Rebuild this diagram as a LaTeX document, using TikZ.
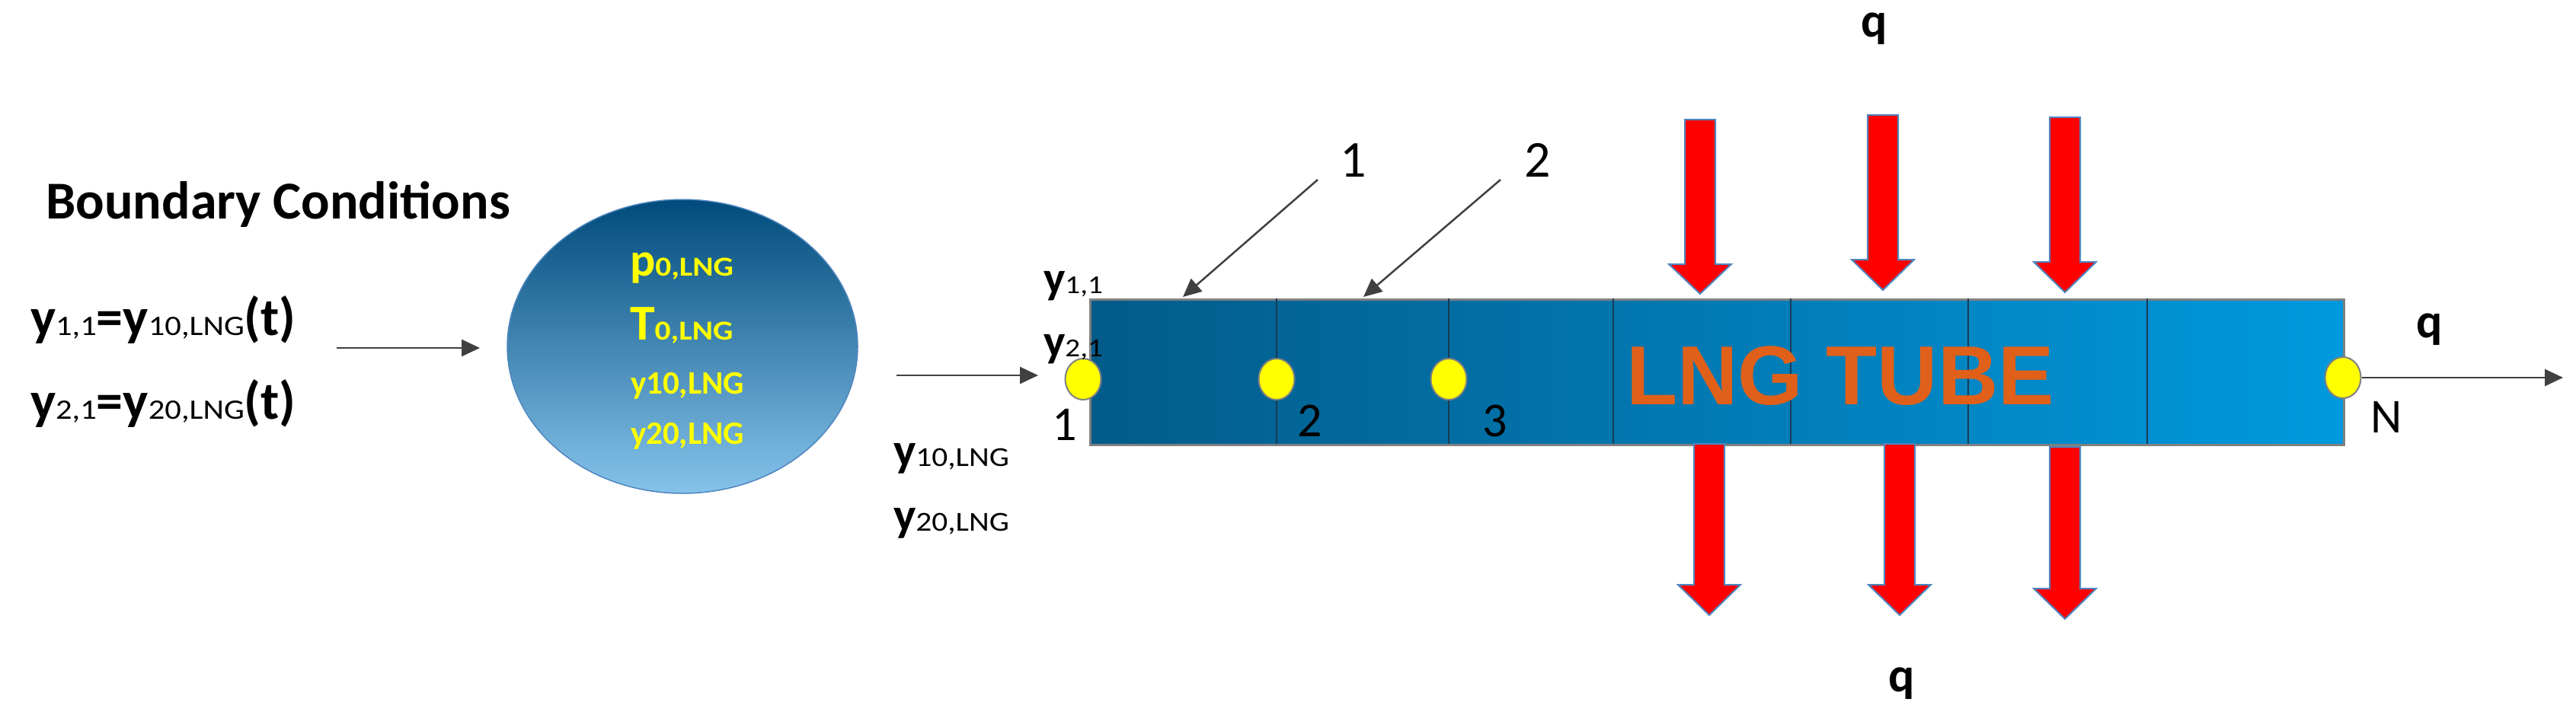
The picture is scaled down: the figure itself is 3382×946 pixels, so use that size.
\documentclass[tikz,border=0pt]{standalone}
\usepackage{fontspec}
\setmainfont{Carlito}
\newfontfamily\subf{Carlito}[FakeStretch=1.15]
\newfontfamily\arialf{Liberation Sans}
\usetikzlibrary{arrows.meta,shapes.geometric}
\definecolor{ellTop}{HTML}{004B7B}
\definecolor{ellMid}{HTML}{0C5B8C}
\definecolor{ellBot}{HTML}{86C3EB}
\definecolor{tubeL}{HTML}{035B8A}
\definecolor{tubeR}{HTML}{0099DE}
\definecolor{tubeEdge}{HTML}{808080}
\definecolor{divLine}{HTML}{1A3A55}
\definecolor{lngOrange}{HTML}{E0601A}
\definecolor{arrRed}{HTML}{FF0000}
\definecolor{arrEdge}{HTML}{4F86BF}
\definecolor{lineGray}{HTML}{404040}
\definecolor{ylw}{HTML}{FFFF00}
\newcommand\bigt[2][70]{{\fontsize{#1}{#1}\selectfont\bfseries #2}}
\newcommand\smt[2][37]{{\subf\fontsize{#1}{#1}\selectfont #2}}
\newcommand\smbt[2][36]{{\subf\fontsize{#1}{#1}\selectfont\bfseries #2}}
\newcommand\redarr[4]{%
  \filldraw[redarrow] ({#1-20},#2) -- ({#1+20},#2) -- ({#1+20},#3) -- ({#1+41},#3)
    -- (#1,#4) -- ({#1-41},#3) -- ({#1-20},#3) -- cycle;}
\tikzset{
  txt/.style={inner sep=0pt, outer sep=0pt, anchor=base west},
  ctxt/.style={inner sep=0pt, outer sep=0pt, anchor=base},
  conn/.style={draw=lineGray, line width=2.5pt, -{Triangle[length=24pt,width=22pt]}},
  redarrow/.style={fill=arrRed, draw=arrEdge, line width=2pt, line join=miter},
  ynode/.style={ellipse, fill=ylw, draw=tubeEdge, line width=2pt, minimum width=47pt, minimum height=54pt, inner sep=0pt},
  divider/.style={draw=divLine, line width=2pt},
  numlab/.style={ctxt, font=\fontsize{64}{64}\selectfont},
  qlab/.style={ctxt, font=\fontsize{64}{64}\selectfont\bfseries},
}
\begin{document}
\begin{tikzpicture}[x=1pt,y=-1pt]
\useasboundingbox (0,0) rectangle (3382,946);
\fill[white] (0,0) rectangle (3382,946);

% boundary conditions
\node[ctxt, font=\fontsize{70}{84}\selectfont\bfseries] (bc) at (365,287) {Boundary Conditions};
\node[txt] (bc1) at (40,440) {\bigt{y}\smt{1,1}\bigt{=y}\smt{10,LNG}\bigt{(t)}};
\node[txt] (bc2) at (40,550) {\bigt{y}\smt{2,1}\bigt{=y}\smt{20,LNG}\bigt{(t)}};
\coordinate (a1s) at (442,457);
\coordinate (a1e) at (630,457);
\draw[conn] (a1s) -- (a1e);

% ellipse
\node[ellipse, minimum width=460pt, minimum height=386pt, draw=arrEdge, line width=1.5pt,
      top color=ellTop, middle color=ellMid, bottom color=ellBot] (ell) at (896,455) {};
\node[txt, text=ylw] (e1) at (827,362) {\bigt[62]{p}\smbt{0,LNG}};
\node[txt, text=ylw] (e2) at (827,446) {\bigt[66]{T}\smbt{0,LNG}};
\node[txt, text=ylw] (e3) at (828,517) {\bigt[43]{y10,LNG}};
\node[txt, text=ylw] (e4) at (828,583) {\bigt[43]{y20,LNG}};

% inlet arrow and labels
\coordinate (a2s) at (1177,493);
\coordinate (a2e) at (1363,493);
\draw[conn] (a2s) -- (a2e);
\node[txt] (in1) at (1173,612) {\bigt[62]{y}\smt[36]{10,LNG}};
\node[txt] (in2) at (1173,697) {\bigt[62]{y}\smt[36]{20,LNG}};

% tube
\node[draw=tubeEdge, line width=3pt, left color=tubeL, right color=tubeR,
      minimum width=1646pt, minimum height=191pt, inner sep=0pt, anchor=north west] (tube) at (1430,392) {};
\foreach \xx in {1676,1902,2118,2351,2584,2819}
  \draw[divider] (\xx,392) -- (\xx,583);
\node[txt, text=lngOrange, font=\arialf\bfseries\fontsize{110}{110}\selectfont] (lng) at (2135,531) {LNG TUBE};

% nodes on tube
\node[ynode] (n1) at (1422,498) {};
\node[ynode] (n2) at (1676,498) {};
\node[ynode] (n3) at (1902,498) {};
\node[ynode] (nN) at (3076,496) {};
\node[numlab] (l1) at (1398,578) {1};
\node[numlab] (l2) at (1720,573) {2};
\node[numlab] (l3) at (1963,573) {3};
\node[numlab] (lN) at (3133,568) {N};

% y labels at tube inlet
\node[txt] (y11) at (1370,385) {\bigt[60]{y}\smt[34]{1,1}};
\node[txt] (y21) at (1370,468) {\bigt[60]{y}\smt[34]{2,1}};

% pointer arrows
\node[numlab, font=\fontsize{68}{68}\selectfont] (t1) at (1777,232) {1};
\node[numlab, font=\fontsize{68}{68}\selectfont] (t2) at (2019,232) {2};
\coordinate (p1s) at (1730,236);
\coordinate (p1e) at (1553,390);
\coordinate (p2s) at (1970,236);
\coordinate (p2e) at (1790,390);
\draw[conn] (p1s) -- (p1e);
\draw[conn] (p2s) -- (p2e);

% outlet arrow
\coordinate (a3e) at (3365,496);
\draw[conn] (nN.east) -- (a3e);

% heat flux arrows
\redarr{2232}{157}{347}{386}
\redarr{2472}{151}{341}{381}
\redarr{2711}{154}{344}{384}
\redarr{2244}{583}{768}{808}
\redarr{2494}{583}{768}{808}
\redarr{2711}{587}{773}{813}

% q labels
\node[qlab] (qt) at (2461,48) {q};
\node[qlab] (qb) at (2497,908) {q};
\node[qlab] (qr) at (3190,443) {q};
\end{tikzpicture}
\end{document}
